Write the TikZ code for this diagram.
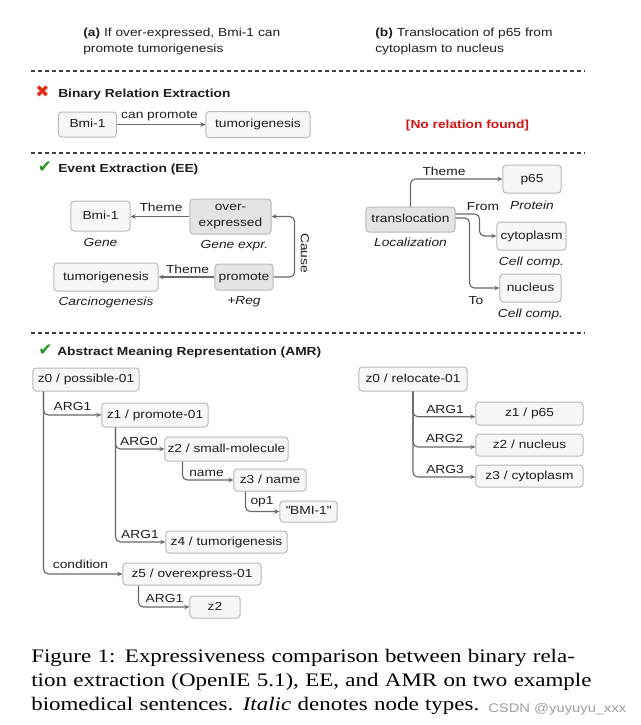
\documentclass[tikz,border=0pt]{standalone}
\usepackage{fontspec}
\setmainfont{Liberation Sans}[FakeStretch=1.18]
\newfontfamily\capfont{Liberation Serif}[FakeStretch=1.20]
\newfontfamily\symfont{DejaVu Sans}
\usetikzlibrary{positioning,arrows.meta}

\definecolor{boxline}{RGB}{185,185,185}
\definecolor{boxfill}{RGB}{247,247,247}
\definecolor{trigfill}{RGB}{228,228,228}
\definecolor{edgegray}{RGB}{105,105,105}
\definecolor{textgray}{RGB}{30,30,30}
\definecolor{norelred}{RGB}{210,20,20}
\definecolor{okgreen}{RGB}{40,150,40}
\definecolor{badred}{RGB}{220,45,25}
\definecolor{markgray}{RGB}{160,160,160}

\newcommand{\dsize}{\fontsize{8.3}{11.4}\selectfont}
\newcommand{\capline}[1]{\makebox[13.975cm][s]{#1}}

\begin{document}
\begin{tikzpicture}[x=0.025cm, y=-0.025cm,
	>={Stealth[length=1.3mm, width=1.1mm]},
	nbox/.style 2 args = { draw=boxline, line width=0.25mm, rounded corners=0.8mm,
			inner sep=0pt, font=\dsize, text=textgray,
			minimum width=#1*0.25mm, minimum height=#2*0.25mm },
	ebox/.style 2 args = { nbox={#1}{#2}, fill=boxfill, text height=6pt, text depth=1.7pt },
	tbox/.style 2 args = { nbox={#1}{#2}, fill=trigfill, text height=6pt, text depth=1.7pt },
	edge/.style = { draw=edgegray, line width=0.28mm, rounded corners=1.2mm },
	lbl/.style = { font=\dsize, text=textgray, inner sep=0pt, anchor=base },
	typ/.style = { font=\dsize\itshape, text=textgray, inner sep=0pt,
			text height=6pt, text depth=1.7pt },
	head/.style = { font=\dsize\bfseries, text=textgray, inner sep=0pt, anchor=base west },
	icon/.style = { font=\symfont\fontsize{12}{13}\selectfont, inner sep=0pt },
	sepline/.style = { draw=black!75, line width=0.35mm, dash pattern=on 1mm off 0.75mm }]

  \fill[white] (0,0) rectangle (640,725);
  \useasboundingbox (0,0) rectangle (640,725);

  \node[name=sentA, font=\dsize, text=textgray, inner sep=0pt, anchor=base west,
	text width=5.5cm, align=left] at (83,36)
	{\textbf{(a)} If over-expressed, Bmi-1 can\\promote tumorigenesis};
  \node[name=sentB, font=\dsize, text=textgray, inner sep=0pt, anchor=base west,
	text width=5.5cm, align=left] at (375,36)
	{\textbf{(b)} Translocation of p65 from\\cytoplasm to nucleus};
  \draw[sepline] (31,71) -- (585,71);

  \node[name=xmark, icon, text=badred] at (42.5,92) {✖};
  \node[name=bre, head] at (58,97) {Binary Relation Extraction};
  \node[name=bmiA, ebox={58}{25}] at (87.5,124.5) {Bmi-1};
  \node[name=tumA, ebox={104}{26}] at (258,124.5) {tumorigenesis};
  \draw [->, edge] (bmiA) -- (tumA);
  \node[name=canp, lbl] at (159.5,118.5) {can promote};
  \node[name=nofound, lbl, font=\dsize\bfseries, text=norelred] at (467.5,128.5)
	{[No relation found]};
  \draw[sepline] (31,153) -- (585,153);

  \node[name=ckEE, icon, text=okgreen] at (45,167.5) {✔};
  \node[name=ee, head] at (58,172) {Event Extraction (EE)};
  \node[name=bmiB, ebox={59}{30}] at (100.5,216) {Bmi-1};
  \node[name=tGene, typ, below=0.15cm of bmiB] {Gene};
  \node[name=overexp, nbox={81}{35}, fill=trigfill, align=center] at (230.5,216.5)
	{over-\\expressed};
  \node[name=tGexp, typ, below=0.13cm of overexp, xshift=0.1cm] {Gene expr.};
  \draw [->, edge] (overexp.west) -- (overexp.west -| bmiB.east);
  \node[name=thA, lbl] at (161,211.5) {Theme};
  \node[name=tumB, ebox={104}{28}] at (106,277) {tumorigenesis};
  \node[name=tCarc, typ, below=0.14cm of tumB] {Carcinogenesis};
  \node[name=promote, tbox={58}{26}] at (244,277) {promote};
  \node[name=tReg, typ, below=0.14cm of promote] {+Reg};
  \draw [->, edge] (promote) -- (tumB);
  \node[name=thB, lbl] at (187.5,273) {Theme};
  \draw [->, edge] (promote.east) -- ++(21,0) |- (overexp.east);
  \node[name=cause, lbl, anchor=center, rotate=-90] at (305,253) {Cause};

  \node[name=transl, tbox={89}{25}] at (410.5,219.5) {translocation};
  \node[name=tLoc, typ, below=0.14cm of transl] {Localization};
  \node[name=p65, ebox={58}{28}] at (532,179) {p65};
  \node[name=tProt, typ, below=0.18cm of p65] {Protein};
  \node[name=cyto, ebox={69}{28}] at (531.5,236) {cytoplasm};
  \node[name=tCyto, typ, below=0.15cm of cyto] {Cell comp.};
  \node[name=nucl, ebox={61}{28}] at (530.5,288) {nucleus};
  \node[name=tNucl, typ, below=0.15cm of nucl] {Cell comp.};
  \draw [->, edge] (transl) |- (p65);
  \node[name=thR, lbl] at (444,175) {Theme};
  \draw [->, edge] (transl.east) ++(0,-5.5) -- ++(24,0) |- (cyto);
  \node[name=from, lbl] at (483,210) {From};
  \draw [->, edge] (transl.east) ++(0,-1.5) -- ++(14,0) |- (nucl);
  \node[name=to, lbl] at (476,304) {To};
  \draw[sepline] (31,333) -- (585,333);

  \node[name=ckAMR, icon, text=okgreen] at (45.5,350) {✔};
  \node[name=amr, head] at (57,355) {Abstract Meaning Representation (AMR)};
  \node[name=z0, ebox={106}{23}] at (86,379.5) {z0 / possible-01};
  \node[name=z1, ebox={106}{24}] at (155,415) {z1 / promote-01};
  \node[name=z2, ebox={123}{24}] at (226.5,449) {z2 / small-molecule};
  \node[name=z3, ebox={72}{22}] at (270,480) {z3 / name};
  \node[name=bmiC, ebox={57}{21}] at (308.5,511.5) {\textquotedbl BMI-1\textquotedbl};
  \node[name=z4, ebox={121}{22}] at (226.5,542) {z4 / tumorigenesis};
  \node[name=z5, ebox={138}{22}] at (192,574) {z5 / overexpress-01};
  \node[name=z2b, ebox={50}{22}] at (215,607) {z2};
  \draw [->, edge] (z0.south west) ++(11,0) |- (z1);
  \draw [->, edge] (z0.south west) ++(11,0) |- (z5);
  \draw [->, edge] (z1.south west) ++(14,0) |- (z2);
  \draw [->, edge] (z1.south west) ++(14,0) |- (z4);
  \draw [->, edge] (z2.south west) ++(18,0) |- (z3);
  \draw [->, edge] (z3.south west) ++(12,0) |- (bmiC);
  \draw [->, edge] (z5.south west) ++(16,0) |- (z2b);
  \node[name=a1, lbl] at (72.5,410) {ARG1};
  \node[name=a0, lbl] at (139,445) {ARG0};
  \node[name=nm, lbl] at (206.5,476) {name};
  \node[name=op, lbl] at (262,504.5) {op1};
  \node[name=a1b, lbl] at (140,538) {ARG1};
  \node[name=cond, lbl] at (80.5,568) {condition};
  \node[name=a1c, lbl] at (164.5,602) {ARG1};

  \node[name=r0, ebox={108}{24}] at (413,379) {z0 / relocate-01};
  \node[name=r1, ebox={107}{23}] at (529.5,413.5) {z1 / p65};
  \node[name=r2, ebox={107}{22}] at (529.5,445) {z2 / nucleus};
  \node[name=r3, ebox={107}{22}] at (529.5,476) {z3 / cytoplasm};
  \draw [->, edge] (r0) |- ([yshift=-0.8mm]r1.west);
  \draw [->, edge] (r0) |- ([yshift=-0.5mm]r2.west);
  \draw [->, edge] (r0) |- ([yshift=-0.25mm]r3.west);
  \node[name=ra1, lbl] at (445,413) {ARG1};
  \node[name=ra2, lbl] at (444.5,442) {ARG2};
  \node[name=ra3, lbl] at (445,473) {ARG3};

  \node[name=caption, anchor=base west, inner sep=0pt, text width=14.1cm,
	align=left, font=\capfont\fontsize{13.6}{17.4}\selectfont] at (31,662)
	{\capline{Figure 1: Expressiveness comparison between binary rela-}\\
	\capline{tion extraction (OpenIE 5.1), EE, and AMR on two example}\\
	biomedical sentences. \textit{Italic} denotes node types.};
  \node[name=wmark, anchor=base west, inner sep=0pt,
	font=\fontsize{8.9}{10}\selectfont, text=markgray] at (488,712.5)
	{CSDN @yuyuyu\_xxx};
\end{tikzpicture}
\end{document}
